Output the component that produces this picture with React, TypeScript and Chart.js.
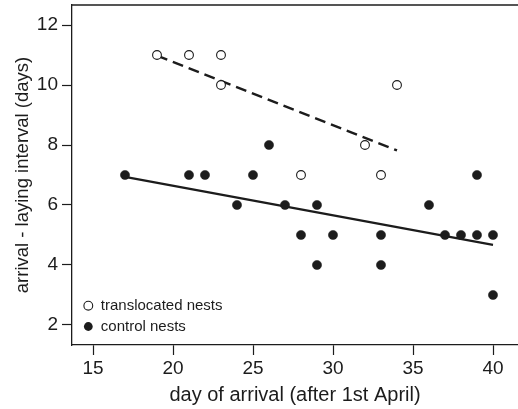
import React, { useEffect, useRef } from "react";
import { Chart, registerables } from "chart.js";

Chart.register(...registerables);

// Translocated nests (open circles): day of arrival, arrival-laying interval
const translocatedX = [19, 21, 23, 23, 28, 32, 33, 34];
const translocatedY = [11, 11, 11, 10, 7, 8, 7, 10];

// Control nests (filled circles)
const controlX = [17, 21, 22, 24, 25, 26, 27, 28, 29, 29, 30, 33, 33, 36, 37, 38, 39, 39, 40, 40];
const controlY = [7, 7, 7, 6, 7, 8, 6, 5, 6, 4, 5, 5, 4, 6, 5, 5, 5, 7, 5, 3];

// Fitted lines, endpoints
const translocatedFitX = [19, 34];
const translocatedFitY = [10.98, 7.82];
const controlFitX = [17, 40];
const controlFitY = [6.94, 4.67];

const xTicks = [15, 20, 25, 30, 35, 40];
const yTicks = [2, 4, 6, 8, 10, 12];

const legendLabels = ["translocated nests", "control nests"];

const FONT = "'Liberation Sans', Arial, Helvetica, sans-serif";
const INK = "#1c1c1c";

const zip = (xs: number[], ys: number[]) => xs.map((x, i) => ({ x, y: ys[i] }));

export default function App() {
  const ref = useRef<HTMLCanvasElement | null>(null);

  useEffect(() => {
    if (!ref.current) return;

    const framePlugin = {
      id: "frameAndLegend",
      afterDraw(chart: any) {
        const { ctx, chartArea } = chart;
        ctx.save();
        // top frame line
        ctx.strokeStyle = INK;
        ctx.lineWidth = 1.3;
        ctx.beginPath();
        ctx.moveTo(chartArea.left, chartArea.top);
        ctx.lineTo(chartArea.right, chartArea.top);
        ctx.stroke();

        // legend inside chart area, bottom-left
        const cx = chartArea.left + 16.3;
        const rows = [chartArea.bottom - 39.3, chartArea.bottom - 18.5];
        ctx.font = `15px ${FONT}`;
        ctx.textBaseline = "middle";
        ctx.textAlign = "left";
        rows.forEach((y, i) => {
          ctx.beginPath();
          ctx.arc(cx, y, 4.4, 0, Math.PI * 2);
          if (i === 0) {
            ctx.fillStyle = "#fff";
            ctx.fill();
            ctx.lineWidth = 1.1;
            ctx.strokeStyle = INK;
            ctx.stroke();
          } else {
            ctx.fillStyle = INK;
            ctx.fill();
          }
          ctx.fillStyle = INK;
          ctx.fillText(legendLabels[i], cx + 12.5, y + 0.5);
        });
        ctx.restore();
      },
    };

    const chart = new Chart(ref.current, {
      type: "scatter",
      data: {
        datasets: [
          {
            label: legendLabels[1],
            data: zip(controlX, controlY),
            pointRadius: 4.6,
            pointBackgroundColor: INK,
            pointBorderColor: INK,
            pointBorderWidth: 0.5,
          },
          {
            label: legendLabels[0],
            data: zip(translocatedX, translocatedY),
            pointRadius: 4.4,
            pointBackgroundColor: "#ffffff",
            pointBorderColor: INK,
            pointBorderWidth: 1.1,
          },
          {
            type: "line",
            label: "control fit",
            data: zip(controlFitX, controlFitY),
            borderColor: INK,
            borderWidth: 2.2,
            pointRadius: 0,
            fill: false,
          } as any,
          {
            type: "line",
            label: "translocated fit",
            data: zip(translocatedFitX, translocatedFitY),
            borderColor: INK,
            borderWidth: 2.4,
            borderDash: [11, 6],
            pointRadius: 0,
            fill: false,
          } as any,
        ],
      },
      options: {
        animation: false,
        responsive: false,
        layout: { padding: { top: 5, left: 0, right: 0, bottom: 0 }, autoPadding: false },
        plugins: {
          legend: { display: false },
          tooltip: { enabled: false },
        },
        scales: {
          x: {
            type: "linear",
            min: 13.6875,
            max: 41.5625,
            afterBuildTicks: (axis: any) => {
              axis.ticks = xTicks.map((v) => ({ value: v }));
            },
            afterFit: (axis: any) => {
              axis.height = 64;
              axis.paddingLeft = 0;
              axis.paddingRight = 0;
              axis.paddingTop = 0;
              axis.paddingBottom = 0;
            },
            grid: {
              display: true,
              drawOnChartArea: false,
              drawTicks: true,
              tickLength: 10,
              tickWidth: 1.2,
              tickColor: INK,
            },
            border: { display: true, color: INK, width: 1.3 },
            ticks: {
              color: INK,
              font: { family: FONT, size: 19 },
              padding: 2,
              maxRotation: 0,
              autoSkip: false,
            },
            title: {
              display: true,
              text: "day of arrival (after 1st April)",
              color: INK,
              font: { family: FONT, size: 20 },
              padding: { top: 0, bottom: 1.5 },
            },
          },
          y: {
            type: "linear",
            min: 1.3333,
            max: 12.6667,
            afterBuildTicks: (axis: any) => {
              axis.ticks = yTicks.map((v) => ({ value: v }));
            },
            afterFit: (axis: any) => {
              axis.width = 72;
              axis.paddingLeft = 0;
              axis.paddingRight = 0;
              axis.paddingTop = 0;
              axis.paddingBottom = 0;
            },
            grid: {
              display: true,
              drawOnChartArea: false,
              drawTicks: true,
              tickLength: 10,
              tickWidth: 1.2,
              tickColor: INK,
            },
            border: { display: true, color: INK, width: 1.3 },
            ticks: {
              color: INK,
              font: { family: FONT, size: 19 },
              padding: 4,
              autoSkip: false,
            },
            title: {
              display: true,
              text: "arrival - laying interval (days)",
              color: INK,
              font: { family: FONT, size: 18.5 },
              padding: { top: 12, bottom: 0 },
            },
          },
        },
      },
      plugins: [framePlugin],
    });

    return () => chart.destroy();
  }, []);

  return (
    <div style={{ position: "absolute", left: 0, top: 0, width: 518, height: 409, background: "#fff" }}>
      <canvas ref={ref} width={518} height={409} style={{ display: "block" }} />
    </div>
  );
}
